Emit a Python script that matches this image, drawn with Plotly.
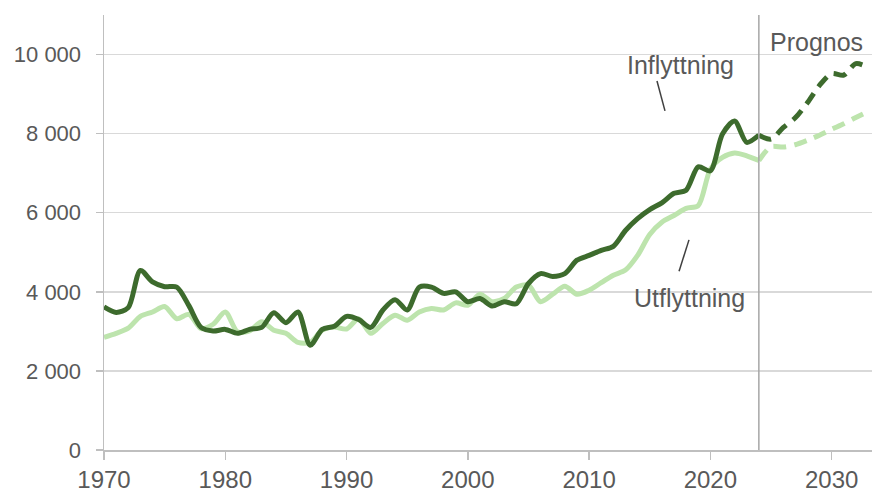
import plotly.graph_objects as go

years_hist = list(range(1970, 2025))
inflyttning = [3620, 3480, 3600, 4540, 4250, 4130, 4120, 3650, 3100, 3010,
               3050, 2950, 3050, 3100, 3470, 3220, 3490, 2650, 3050, 3130,
               3380, 3300, 3100, 3540, 3800, 3540, 4120, 4120, 3960, 4000,
               3750, 3830, 3640, 3750, 3700, 4210, 4460, 4390, 4460, 4800,
               4920, 5050, 5150, 5550, 5850, 6080, 6250, 6490, 6570, 7160,
               7060, 7990, 8320, 7780, 7960]
utflyttning = [2850, 2950, 3080, 3380, 3490, 3630, 3320, 3430, 3070, 3180,
               3490, 2990, 3010, 3240, 3030, 2950, 2720, 2720, 3030, 3110,
               3060, 3320, 2950, 3200, 3410, 3280, 3490, 3580, 3540, 3720,
               3660, 3940, 3750, 3830, 4120, 4170, 3750, 3940, 4140, 3940,
               4040, 4230, 4420, 4550, 4920, 5450, 5760, 5930, 6110, 6180,
               7100, 7400, 7510, 7440, 7320]

years_prog = list(range(2024, 2034))
inflyttning_prog = [7960, 7860, 8150, 8400, 8780, 9220, 9520, 9480, 9770, 9680]
utflyttning_prog = [7320, 7670, 7660, 7720, 7830, 7960, 8110, 8250, 8410, 8560]

x_ticks = [1970, 1980, 1990, 2000, 2010, 2020, 2030]
y_ticks = [0, 2000, 4000, 6000, 8000, 10000]
y_ticktext = ["0", "2 000", "4 000", "6 000", "8 000", "10 000"]
prognos_start = 2024

DARK = "#3d6b2d"
LIGHT = "#bde4ad"
GRAY_TXT = "#595959"

fig = go.Figure()
fig.add_trace(go.Scatter(x=years_hist, y=utflyttning, mode="lines",
                         line=dict(color=LIGHT, width=5, shape="spline", smoothing=0.8),
                         name="Utflyttning", hoverinfo="skip"))
fig.add_trace(go.Scatter(x=years_prog, y=utflyttning_prog, mode="lines",
                         line=dict(color=LIGHT, width=5, shape="spline", smoothing=0.8,
                                   dash="13px,8px"),
                         name="Utflyttning prognos", hoverinfo="skip"))
fig.add_trace(go.Scatter(x=years_hist, y=inflyttning, mode="lines",
                         line=dict(color=DARK, width=5, shape="spline", smoothing=0.8),
                         name="Inflyttning", hoverinfo="skip"))
fig.add_trace(go.Scatter(x=years_prog, y=inflyttning_prog, mode="lines",
                         line=dict(color=DARK, width=5, shape="spline", smoothing=0.8,
                                   dash="13px,8px"),
                         name="Inflyttning prognos", hoverinfo="skip"))

fig.add_shape(type="line", x0=prognos_start, x1=prognos_start, y0=0, y1=1,
              xref="x", yref="paper", line=dict(color="#a6a6a6", width=1.5))

# leader lines
fig.add_shape(type="line", x0=2015.6, x1=2016.26, y0=9330, y1=8575,
              xref="x", yref="y", line=dict(color="#404040", width=1.5))
fig.add_shape(type="line", x0=2018.24, x1=2017.42, y0=5314, y1=4522,
              xref="x", yref="y", line=dict(color="#404040", width=1.5))

ann_font = dict(family="Liberation Sans, Arial, sans-serif", size=25, color=GRAY_TXT)
fig.add_annotation(x=2017.54, y=9735, text="Inflyttning", showarrow=False, font=ann_font,
                   xanchor="center", yanchor="middle")
fig.add_annotation(x=2018.28, y=3834, text="Utflyttning", showarrow=False, font=ann_font,
                   xanchor="center", yanchor="middle")
fig.add_annotation(x=2028.77, y=10315, text="Prognos", showarrow=False, font=ann_font,
                   xanchor="center", yanchor="middle")

fig.update_layout(
    width=872, height=494,
    margin=dict(l=104, r=0, t=15, b=44),
    paper_bgcolor="white", plot_bgcolor="white",
    showlegend=False,
    hovermode=False,
    font=dict(family="Liberation Sans, Arial, sans-serif", color=GRAY_TXT),
)
fig.update_xaxes(
    range=[1970, 2033.33], tickvals=x_ticks, ticktext=[str(v) for v in x_ticks],
    showgrid=False, zeroline=False,
    showline=True, linecolor="#bfbfbf", linewidth=1.5,
    ticks="outside", ticklen=8, tickcolor="#bfbfbf", tickwidth=1.5,
    tickfont=dict(family="Liberation Sans Narrow, Arial Narrow, Liberation Sans, sans-serif",
                  size=24, color=GRAY_TXT),
)
fig.update_yaxes(
    range=[0, 11000], tickvals=y_ticks, ticktext=y_ticktext,
    showgrid=True, gridcolor="#d9d9d9", gridwidth=1.5, zeroline=False,
    showline=True, linecolor="#bfbfbf", linewidth=1.5,
    ticks="outside", ticklen=7, tickcolor="#bfbfbf", tickwidth=1.5,
    ticklabelstandoff=10,
    tickfont=dict(family="Liberation Sans, Arial, sans-serif", size=22, color=GRAY_TXT),
)

fig.write_html("out.html",
               config={"displayModeBar": False, "staticPlot": True},
               post_script="document.body.style.margin='0';document.body.style.overflow='hidden';")
